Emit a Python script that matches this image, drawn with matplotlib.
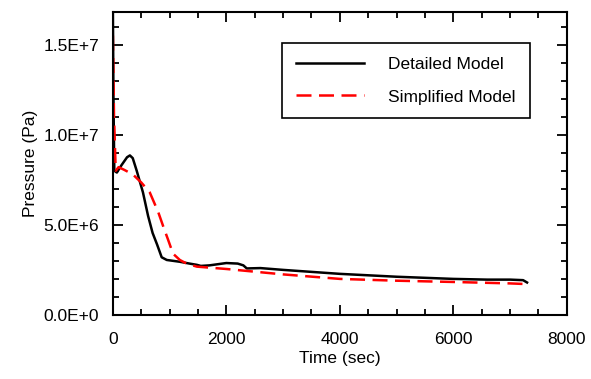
import matplotlib.pyplot as plt
from matplotlib.ticker import MultipleLocator, FuncFormatter

plt.rcParams['font.family'] = ['Liberation Sans', 'DejaVu Sans']

# Detailed model
t_det = [0, 10, 25, 70, 150, 250, 300, 350, 420, 530, 620, 700, 780, 860, 950,
         1180, 1350, 1480, 1550, 1700, 2000, 2200, 2300, 2360, 2600, 3000,
         4000, 5000, 6000, 6600, 7000, 7230, 7300]
p_det = [16.8e6, 12.0e6, 8.0e6, 7.9e6, 8.3e6, 8.75e6, 8.85e6, 8.7e6, 8.0e6,
         6.8e6, 5.5e6, 4.55e6, 3.9e6, 3.2e6, 3.05e6, 2.95e6, 2.85e6, 2.78e6,
         2.72e6, 2.75e6, 2.88e6, 2.85e6, 2.75e6, 2.58e6, 2.6e6, 2.5e6,
         2.28e6, 2.12e6, 2.0e6, 1.96e6, 1.96e6, 1.93e6, 1.8e6]

# Simplified model
t_sim = [0, 20, 50, 100, 200, 350, 500, 650, 800, 900, 970, 1060, 1180,
         1300, 1480, 2000, 3000, 4000, 5000, 6000, 7000, 7230]
p_sim = [15.5e6, 11.0e6, 8.0e6, 8.2e6, 8.05e6, 7.8e6, 7.35e6, 6.8e6, 5.7e6,
         4.8e6, 4.2e6, 3.4e6, 3.05e6, 2.85e6, 2.68e6, 2.55e6, 2.25e6, 2.0e6,
         1.9e6, 1.83e6, 1.75e6, 1.72e6]

fig, ax = plt.subplots(figsize=(5.91, 3.79), dpi=100)
fig.subplots_adjust(left=0.191, right=0.959, top=0.968, bottom=0.169)

ax.plot(t_det, p_det, color='black', lw=1.8, label='Detailed Model')
ax.plot(t_sim, p_sim, color='red', lw=1.8, dashes=(6, 3), label='Simplified Model')

ax.set_xlim(0, 8000)
ax.set_ylim(0, 1.68e7)
ax.xaxis.set_major_locator(MultipleLocator(2000))
ax.xaxis.set_minor_locator(MultipleLocator(500))
ax.yaxis.set_major_locator(MultipleLocator(5e6))
ax.yaxis.set_minor_locator(MultipleLocator(1e6))


def sci(v, pos):
    s = '%.1E' % v
    mant, ex = s.split('E')
    return '%sE+%d' % (mant, int(ex))


ax.yaxis.set_major_formatter(FuncFormatter(sci))
ax.tick_params(which='both', direction='in', top=True, right=True, width=1.3, labelsize=12.5)
ax.tick_params(axis='x', pad=12)
ax.tick_params(axis='y', pad=10)
ax.tick_params(which='major', length=7)
ax.tick_params(which='minor', length=4)
for s in ax.spines.values():
    s.set_linewidth(1.5)

ax.set_xlabel('Time (sec)', fontsize=12.5, labelpad=3)
ax.set_ylabel('Pressure (Pa)', fontsize=12.5, labelpad=4)

leg = ax.legend(loc='upper right', bbox_to_anchor=(0.918, 0.898), fontsize=12.5, fancybox=False,
                edgecolor='black', framealpha=1, handlelength=3.9, handletextpad=1.4,
                borderpad=0.8, labelspacing=1.0, borderaxespad=0)
leg.get_frame().set_linewidth(1.2)

fig.savefig('out.png', dpi=100)
